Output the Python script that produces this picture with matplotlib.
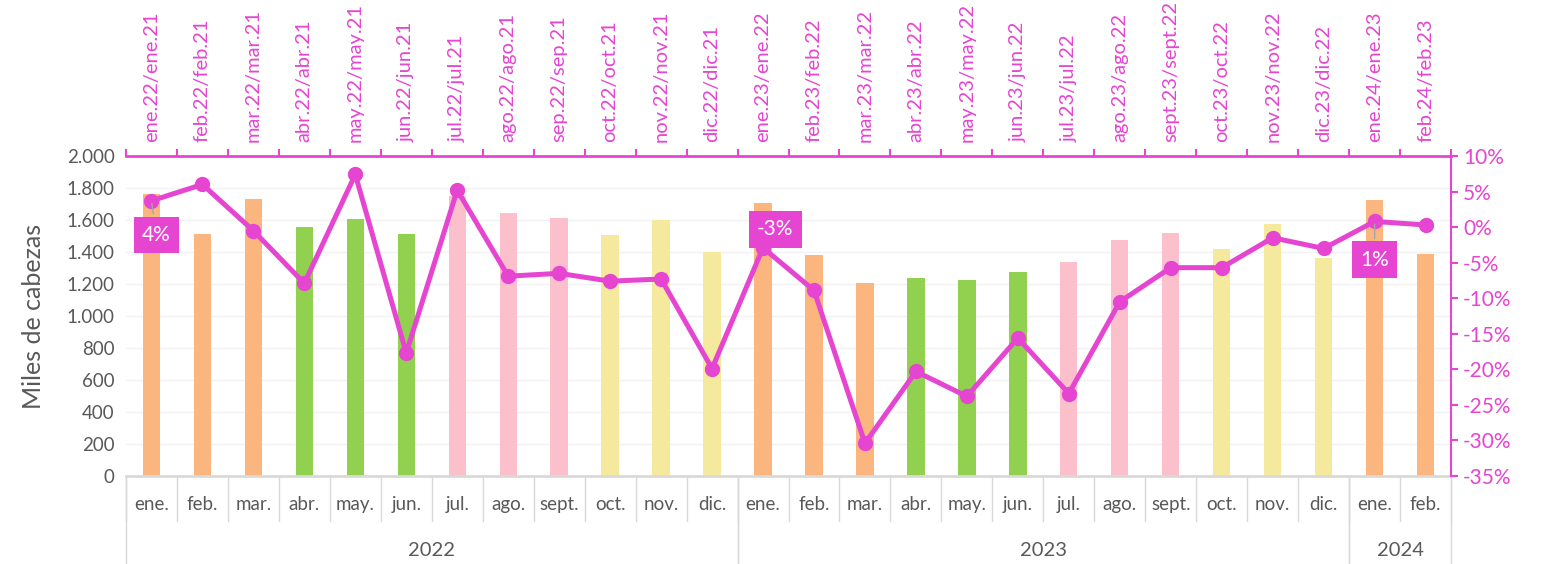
import numpy as np
import matplotlib
matplotlib.use("Agg")
from matplotlib import pyplot as plt
from matplotlib.ticker import FuncFormatter

plt.rcParams['font.family'] = ['Lato', 'DejaVu Sans']

# data
months = ["ene.", "feb.", "mar.", "abr.", "may.", "jun.", "jul.", "ago.", "sept.", "oct.", "nov.", "dic.",
          "ene.", "feb.", "mar.", "abr.", "may.", "jun.", "jul.", "ago.", "sept.", "oct.", "nov.", "dic.",
          "ene.", "feb."]
years = ["2022", "2023", "2024"]
year_counts = [12, 12, 2]
top_labels = ["ene.22/ene.21", "feb.22/feb.21", "mar.22/mar.21", "abr.22/abr.21", "may.22/may.21",
              "jun.22/jun.21", "jul.22/jul.21", "ago.22/ago.21", "sep.22/sep.21", "oct.22/oct.21",
              "nov.22/nov.21", "dic.22/dic.21", "ene.23/ene.22", "feb.23/feb.22", "mar.23/mar.22",
              "abr.23/abr.22", "may.23/may.22", "jun.23/jun.22", "jul.23/jul.22", "ago.23/ago.22",
              "sept.23/sept.22", "oct.23/oct.22", "nov.23/nov.22", "dic.23/dic.22", "ene.24/ene.23",
              "feb.24/feb.23"]
heads = [1760, 1515, 1734, 1559, 1609, 1515, 1749, 1646, 1615, 1508, 1603, 1402,
         1709, 1383, 1207, 1238, 1226, 1276, 1339, 1477, 1521, 1421, 1577, 1364,
         1722, 1389]
var_pct = [3.7, 6.0, -0.5, -7.9, 7.4, -17.7, 5.2, -6.9, -6.5, -7.6, -7.3, -19.9,
           -2.9, -8.9, -30.4, -20.3, -23.8, -15.6, -23.4, -10.5, -5.7, -5.7, -1.5, -3.0,
           0.8, 0.3]
season_colors = {"ene.": "#FBB57F", "feb.": "#FBB57F", "mar.": "#FBB57F",
                 "abr.": "#92D050", "may.": "#92D050", "jun.": "#92D050",
                 "jul.": "#FCC0CC", "ago.": "#FCC0CC", "sept.": "#FCC0CC",
                 "oct.": "#F4E99C", "nov.": "#F4E99C", "dic.": "#F4E99C"}

magenta = "#E545D1"
grey_txt = "#595959"
line_grey = "#D9D9D9"

x = np.arange(len(months))
bar_colors = [season_colors[m] for m in months]

fig = plt.figure(figsize=(15.47, 5.64), dpi=100)
ax = fig.add_axes([0.0814, 0.156, 0.8566, 0.5674])

ax.bar(x, heads, width=0.34, color=bar_colors, zorder=2)
ax.set_xlim(-0.5, len(months) - 0.5)
ax.set_ylim(0, 2000)
ax.set_yticks(np.arange(0, 2001, 200))
ax.yaxis.set_major_formatter(FuncFormatter(lambda v, p: f"{int(v):,}".replace(",", ".")))
ax.tick_params(axis='y', length=0, labelsize=13.5, labelcolor=grey_txt, pad=8)
for g in np.arange(200, 2000, 200):
    ax.axhline(g, color='#F2F2F2', lw=1, zorder=0)
ax.set_ylabel("Miles de cabezas", fontsize=18, color=grey_txt, labelpad=16)
for s in ["left", "top", "right"]:
    ax.spines[s].set_visible(False)
ax.spines["bottom"].set_color(line_grey)
ax.spines["bottom"].set_linewidth(2)
ax.set_xticks([])

# bottom hierarchical category labels
for i, m in enumerate(months):
    ax.text(i, -0.09, m, transform=ax.get_xaxis_transform(), ha='center', va='center',
            fontsize=13.5, color=grey_txt)
for b in np.arange(-0.5, len(months), 1.0):
    ax.plot([b, b], [0, -0.14], transform=ax.get_xaxis_transform(), color=line_grey,
            lw=1, clip_on=False)
start = -0.5
for yr, n in zip(years, year_counts):
    ax.text(start + n / 2, -0.234, yr, transform=ax.get_xaxis_transform(), ha='center',
            va='center', fontsize=14.5, color=grey_txt)
    for b in (start, start + n):
        ax.plot([b, b], [0, -0.3], transform=ax.get_xaxis_transform(), color=line_grey,
                lw=1, clip_on=False)
    start += n

# secondary axis with variation
ax2 = ax.twinx()
ax2.plot(x, var_pct, color=magenta, lw=3.6, marker='o', markersize=10, zorder=3)
ax2.set_ylim(-35, 10)
ax2.set_yticks(np.arange(-35, 11, 5))
ax2.yaxis.set_major_formatter(FuncFormatter(lambda v, p: f"{int(v)}%"))
ax2.tick_params(axis='y', colors=magenta, labelsize=15, length=5, width=1.5)
for s in ["left", "top", "bottom"]:
    ax2.spines[s].set_visible(False)
ax2.spines["right"].set_color(magenta)
ax2.spines["right"].set_linewidth(1.5)

# top category axis
top = ax.secondary_xaxis('top')
top.set_xticks(x)
top.set_xticklabels(top_labels, rotation=90, fontsize=14.5, color=magenta)
top.set_xticks(np.arange(-0.5, len(months), 1.0), minor=True)
top.tick_params(axis='x', which='major', length=0, pad=10)
top.tick_params(axis='x', which='minor', length=5, width=1.5, color=magenta)
top.spines['top'].set_color(magenta)
top.spines['top'].set_linewidth(2)

# data labels
boxes = [(0, "4%", 0.1, -1.1, True), (12, "-3%", 12.24, -0.3, False), (24, "1%", 24.0, -4.6, True)]
for i, txt, bx, by, lead in boxes:
    ax2.annotate(txt, xy=(x[i], var_pct[i]), xytext=(bx, by), ha='center', va='center',
                 fontsize=15, color='white', zorder=5,
                 bbox=dict(boxstyle='square,pad=0.4', fc=magenta, ec='none'),
                 arrowprops=dict(arrowstyle='-', color='#A6A6A6', lw=1) if lead else None)

fig.savefig("out.png", dpi=100)
